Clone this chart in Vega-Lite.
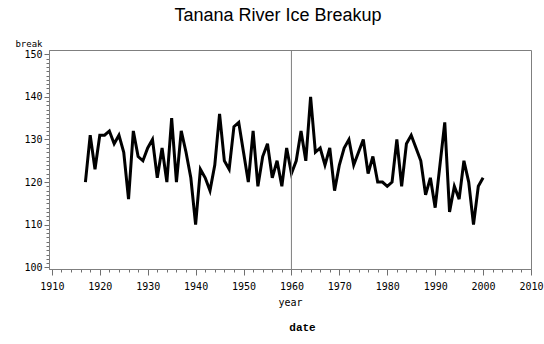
{
  "$schema": "https://vega.github.io/schema/vega-lite/v6.json",
  "width": 482,
  "height": 219,
  "autosize": {"type": "none"},
  "padding": {"left": 49, "top": 50, "right": 13, "bottom": 75},
  "background": "white",
  "title": {"text": "Tanana River Ice Breakup", "font": "Liberation Sans", "fontSize": 18, "fontWeight": "normal", "color": "black", "anchor": "middle", "dx": -12, "offset": 14},
  "config": {"view": {"stroke": "#7f7f7f", "strokeWidth": 1}},
  "layer": [
    {
      "data": {"values": [
        {"year": 1917, "break": 120}, {"year": 1918, "break": 131}, {"year": 1919, "break": 123}, {"year": 1920, "break": 131},
        {"year": 1921, "break": 131}, {"year": 1922, "break": 132}, {"year": 1923, "break": 129}, {"year": 1924, "break": 131},
        {"year": 1925, "break": 127}, {"year": 1926, "break": 116}, {"year": 1927, "break": 132}, {"year": 1928, "break": 126},
        {"year": 1929, "break": 125}, {"year": 1930, "break": 128}, {"year": 1931, "break": 130}, {"year": 1932, "break": 121},
        {"year": 1933, "break": 128}, {"year": 1934, "break": 120}, {"year": 1935, "break": 135}, {"year": 1936, "break": 120},
        {"year": 1937, "break": 132}, {"year": 1938, "break": 127}, {"year": 1939, "break": 121}, {"year": 1940, "break": 110},
        {"year": 1941, "break": 123}, {"year": 1942, "break": 121}, {"year": 1943, "break": 118}, {"year": 1944, "break": 124},
        {"year": 1945, "break": 136}, {"year": 1946, "break": 125}, {"year": 1947, "break": 123}, {"year": 1948, "break": 133},
        {"year": 1949, "break": 134}, {"year": 1950, "break": 127}, {"year": 1951, "break": 120}, {"year": 1952, "break": 132},
        {"year": 1953, "break": 119}, {"year": 1954, "break": 126}, {"year": 1955, "break": 129}, {"year": 1956, "break": 121},
        {"year": 1957, "break": 125}, {"year": 1958, "break": 119}, {"year": 1959, "break": 128}, {"year": 1960, "break": 122},
        {"year": 1961, "break": 125}, {"year": 1962, "break": 132}, {"year": 1963, "break": 125}, {"year": 1964, "break": 140},
        {"year": 1965, "break": 127}, {"year": 1966, "break": 128}, {"year": 1967, "break": 124}, {"year": 1968, "break": 128},
        {"year": 1969, "break": 118}, {"year": 1970, "break": 124}, {"year": 1971, "break": 128}, {"year": 1972, "break": 130},
        {"year": 1973, "break": 124}, {"year": 1974, "break": 127}, {"year": 1975, "break": 130}, {"year": 1976, "break": 122},
        {"year": 1977, "break": 126}, {"year": 1978, "break": 120}, {"year": 1979, "break": 120}, {"year": 1980, "break": 119},
        {"year": 1981, "break": 120}, {"year": 1982, "break": 130}, {"year": 1983, "break": 119}, {"year": 1984, "break": 129},
        {"year": 1985, "break": 131}, {"year": 1986, "break": 128}, {"year": 1987, "break": 125}, {"year": 1988, "break": 117},
        {"year": 1989, "break": 121}, {"year": 1990, "break": 114}, {"year": 1991, "break": 124}, {"year": 1992, "break": 134},
        {"year": 1993, "break": 113}, {"year": 1994, "break": 119}, {"year": 1995, "break": 116}, {"year": 1996, "break": 125},
        {"year": 1997, "break": 120}, {"year": 1998, "break": 110}, {"year": 1999, "break": 119}, {"year": 2000, "break": 121}
      ]},
      "mark": {"type": "line", "color": "black", "strokeWidth": 3},
      "encoding": {
        "x": {
          "field": "year", "type": "quantitative",
          "scale": {"domain": [1909.4, 2010], "nice": false, "zero": false},
          "axis": {
            "orient": "bottom",
            "values": [1910,1912,1914,1916,1918,1920,1922,1924,1926,1928,1930,1932,1934,1936,1938,1940,1942,1944,1946,1948,1950,1952,1954,1956,1958,1960,1962,1964,1966,1968,1970,1972,1974,1976,1978,1980,1982,1984,1986,1988,1990,1992,1994,1996,1998,2000,2002,2004,2006,2008,2010],
            "format": "d",
            "labelExpr": "datum.value % 10 === 0 ? datum.label : ''",
            "labelOverlap": false,
            "labelFlush": false,
            "tickSize": {"condition": {"test": "datum.value % 10 === 0", "value": 6}, "value": 3},
            "grid": false,
            "domainColor": "#7f7f7f",
            "tickColor": "#6f6f6f",
            "labelFont": "DejaVu Sans Mono",
            "labelFontSize": 10,
            "labelColor": "black",
            "labelPadding": 6,
            "title": "year",
            "titleFont": "DejaVu Sans Mono",
            "titleFontSize": 10,
            "titleFontWeight": "normal",
            "titleColor": "black",
            "titlePadding": 6
          }
        },
        "y": {
          "field": "break", "type": "quantitative",
          "scale": {"domain": [99.6, 151], "nice": false, "zero": false},
          "axis": {
            "values": [100,101,102,103,104,105,106,107,108,109,110,111,112,113,114,115,116,117,118,119,120,121,122,123,124,125,126,127,128,129,130,131,132,133,134,135,136,137,138,139,140,141,142,143,144,145,146,147,148,149,150],
            "format": "d",
            "labelExpr": "datum.value % 10 === 0 ? datum.label : ''",
            "labelOverlap": false,
            "labelFlush": false,
            "tickSize": {"condition": {"test": "datum.value % 10 === 0", "value": 5}, "value": 3},
            "grid": false,
            "domainColor": "#7f7f7f",
            "tickColor": "#6f6f6f",
            "labelFont": "DejaVu Sans Mono",
            "labelFontSize": 10,
            "labelColor": "black",
            "labelPadding": 2,
            "title": "break",
            "titleFont": "DejaVu Sans Mono",
            "titleFontSize": 9,
            "titleFontWeight": "normal",
            "titleColor": "black",
            "titleAngle": 0,
            "titleAlign": "right",
            "titleBaseline": "middle",
            "titleX": -7,
            "titleY": -7
          }
        }
      }
    },
    {
      "data": {"values": [{"ref_year": 1960}]},
      "mark": {"type": "rule", "color": "#7f7f7f", "strokeWidth": 1},
      "encoding": {
        "x": {
          "field": "ref_year", "type": "quantitative",
          "axis": {
            "orient": "bottom",
            "title": "date",
            "labels": false,
            "ticks": false,
            "domain": false,
            "grid": false,
            "titleFont": "Liberation Mono",
            "titleFontWeight": "bold",
            "titleFontSize": 11,
            "titleColor": "black",
            "titlePadding": 52,
            "titleX": 253
          }
        }
      }
    }
  ],
  "resolve": {"axis": {"x": "independent"}}
}
